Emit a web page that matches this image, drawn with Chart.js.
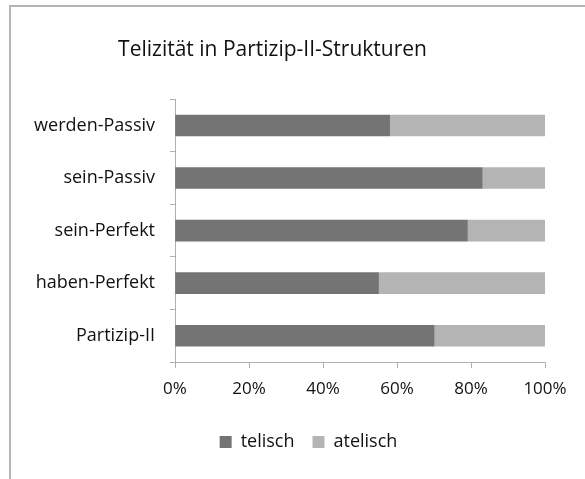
<!DOCTYPE html>
<html>
<head>
<meta charset="utf-8">
<script src="https://cdn.jsdelivr.net/npm/chart.js@4"></script>
<style>
  html, body { margin: 0; padding: 0; background: #fff; overflow: hidden; }
  .frame { position: absolute; left: 9px; top: 5px; width: 620px; height: 520px; border: 2px solid #b4b4b4; }
  .wrap { position: absolute; left: 0; top: 0; width: 585px; height: 479px; }
</style>
</head>
<body>
<div class="frame"></div>
<div class="wrap"><canvas id="telizitaet" width="585" height="479"></canvas></div>
<script>
const categories = ['werden-Passiv', 'sein-Passiv', 'sein-Perfekt', 'haben-Perfekt', 'Partizip-II'];
const telisch = [58, 83, 79, 55, 70];
const atelisch = [42, 17, 21, 45, 30];
const xTicks = [0, 20, 40, 60, 80, 100];

const FONT = "'Open Sans', 'DejaVu Sans', sans-serif";
const axisGray = '#b0b0b0';

// legend sits a bit right of the title centre in the original
const shiftLegend = {
    id: 'shiftLegend',
    afterLayout(chart) {
        chart.legend.left += 36;
        chart.legend.right += 36;
    }
};

document.addEventListener('DOMContentLoaded', () => {
    new Chart('telizitaet', {
        type: 'bar',
        data: {
            labels: categories,
            datasets: [{
                label: 'telisch',
                data: telisch,
                backgroundColor: '#747474',
                barThickness: 21
            }, {
                label: 'atelisch',
                data: atelisch,
                backgroundColor: '#b4b4b4',
                barThickness: 21
            }]
        },
        options: {
            indexAxis: 'y',
            responsive: false,
            animation: false,
            layout: { padding: { left: 0, right: 40, top: 0, bottom: 18 } },
            scales: {
                x: {
                    stacked: true,
                    min: 0,
                    max: 100,
                    afterBuildTicks: (scale) => { scale.ticks = xTicks.map(v => ({ value: v })); },
                    afterFit: (scale) => { scale.height = 53; },
                    grid: { drawOnChartArea: false, tickLength: 6, color: axisGray },
                    border: { color: axisGray, width: 1 },
                    ticks: {
                        padding: 11,
                        color: '#111',
                        font: { family: FONT, size: 17 },
                        callback: (v) => v + '%'
                    }
                },
                y: {
                    stacked: true,
                    afterFit: (scale) => { scale.width = 175; },
                    grid: { drawOnChartArea: false, tickLength: 5, color: axisGray, offset: true },
                    border: { color: axisGray, width: 1 },
                    ticks: {
                        padding: 15,
                        color: '#111',
                        font: { family: FONT, size: 18 }
                    }
                }
            },
            plugins: {
                title: {
                    display: true,
                    text: 'Telizität in Partizip-II-Strukturen',
                    color: '#111',
                    font: { family: FONT, size: 21, weight: 'normal' },
                    padding: { top: 37, bottom: 37 }
                },
                legend: {
                    position: 'bottom',
                    labels: {
                        boxWidth: 12,
                        boxHeight: 12,
                        padding: 18,
                        color: '#111',
                        font: { family: FONT, size: 18 }
                    }
                },
                tooltip: { enabled: false }
            }
        },
        plugins: [shiftLegend]
    });
});
</script>
</body>
</html>
